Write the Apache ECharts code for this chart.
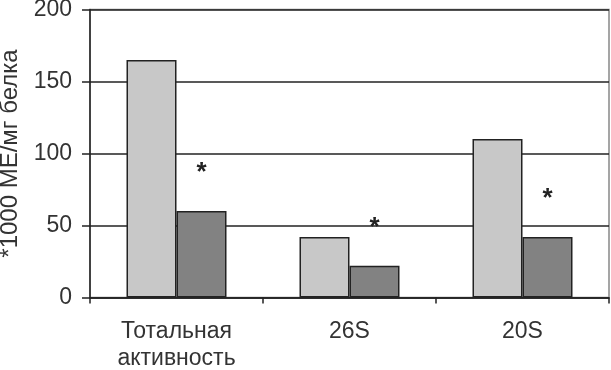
<!DOCTYPE html>
<html>
<head>
<meta charset="utf-8">
<script src="https://cdn.jsdelivr.net/npm/echarts@6/dist/echarts.min.js"></script>
<style>html,body{margin:0;padding:0;background:#fff;}#c{width:611px;height:370px;}</style>
</head>
<body>
<div id="c"></div>
<script>
var categories = ['Тотальная\nактивность', '26S', '20S'];
var controlValues = [165, 42, 110];
var treatedValues = [60, 22, 42];
var yTicks = {min: 0, max: 200, interval: 50};
var yAxisName = '*1000 МЕ/мг белка';
var significanceMark = '*';

var font = "'Liberation Sans', Arial, sans-serif";
var chart = echarts.init(document.getElementById('c'));
chart.setOption({
  animation: false,
  backgroundColor: '#fff',
  grid: {left: 90, right: 2, top: 9.5, bottom: 72.5, show: true, borderColor: '#888', borderWidth: 1.5,
         containLabel: false, outerBoundsMode: 'none'},
  xAxis: {
    type: 'category',
    data: categories,
    axisLine: {lineStyle: {color: '#222', width: 1.5}},
    axisTick: {show: true, length: 6, lineStyle: {color: '#222', width: 1.5}},
    axisLabel: {fontFamily: font, fontSize: 23, color: '#333', margin: 21, lineHeight: 27}
  },
  yAxis: {
    type: 'value',
    min: yTicks.min, max: yTicks.max, interval: yTicks.interval,
    name: yAxisName,
    nameLocation: 'middle',
    nameRotate: 90,
    nameGap: 64,
    nameTextStyle: {fontFamily: font, fontSize: 24, color: '#333'},
    axisLine: {show: true, lineStyle: {color: '#222', width: 1.5}},
    axisTick: {show: true, length: 8, lineStyle: {color: '#222', width: 1.5}},
    axisLabel: {fontFamily: font, fontSize: 23, color: '#333', margin: 18},
    splitLine: {show: true, lineStyle: {color: '#222', width: 1.5}}
  },
  series: [
    {
      type: 'bar',
      data: controlValues,
      barWidth: 50,
      barGap: '0%',
      itemStyle: {color: '#c8c8c8', borderColor: '#222', borderWidth: 1.5}
    },
    {
      type: 'bar',
      data: treatedValues,
      barWidth: 50,
      barGap: '0%',
      itemStyle: {color: '#828282', borderColor: '#222', borderWidth: 1.5},
      label: {
        show: true,
        position: 'top',
        distance: 25,
        formatter: significanceMark,
        fontFamily: font,
        fontSize: 26,
        fontWeight: 'bold',
        color: '#222'
      }
    }
  ]
});
</script>
</body>
</html>
